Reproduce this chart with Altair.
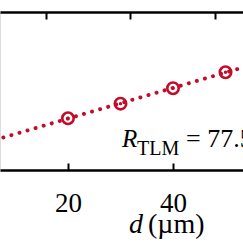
import altair as alt
import pandas as pd

# ---- data ----
d_um = [20, 30, 40, 50]              # channel spacing d (µm)
r_total = [262, 336, 414, 495]       # total resistance (arbitrary, left axis not visible)
bottom_ticks = [0, 20, 40, 60]
top_ticks = [15.9, 31.9, 48.0]       # secondary (top) axis tick positions, in d units
fit_extent = [0, 60]

ann_symbol = "R"
ann_sub = "TLM"
ann_value = "= 77.5 Ω"
title_var = "d"
title_unit = "(µm)"

df = pd.DataFrame({"d": d_um, "R": r_total})

RED = "#c30c2a"
FONT = "Liberation Serif, Times New Roman, serif"
W, H = 243, 158
xs = alt.Scale(domain=[7.05, 53.33], nice=False, zero=False)
ys = alt.Scale(domain=[0, 800], nice=False, zero=False)

base = alt.Chart(df)

# layer 1: fitted dotted line, bottom axis with domain + labels
line = base.transform_regression("d", "R", extent=fit_extent).mark_line(
    color=RED, strokeWidth=3.9, strokeDash=[0.1, 8.3], strokeCap="round", clip=True
).encode(
    x=alt.X("d:Q", scale=xs, axis=alt.Axis(
        orient="bottom", values=bottom_ticks, format="d", grid=False,
        domain=True, domainColor="black", domainWidth=2.5,
        ticks=False, tickSize=0, labels=True, labelFont=FONT, labelFontSize=27,
        labelColor="black", labelBaseline="alphabetic", labelPadding=41,
        labelFlush=False, labelOverlap=False, title=None)),
    y=alt.Y("R:Q", scale=ys, axis=None),
)

# layer 2: open circles, bottom inward ticks
circles = base.mark_point(
    shape="circle", filled=False, size=130, strokeWidth=2.6, color=RED, opacity=1
).encode(
    x=alt.X("d:Q", scale=xs, axis=alt.Axis(
        orient="bottom", values=bottom_ticks, offset=-7, grid=False,
        domain=False, ticks=True, tickSize=7, tickWidth=2, tickColor="black",
        labels=False, title=None)),
    y=alt.Y("R:Q", scale=ys, axis=None),
)

# layer 3: centre dots, top axis domain
dots = base.mark_point(
    shape="circle", filled=True, size=12, color=RED, opacity=1
).encode(
    x=alt.X("d:Q", scale=xs, axis=alt.Axis(
        orient="top", grid=False, domain=True, domainColor="black", domainWidth=2.5,
        ticks=False, labels=False, title=None)),
    y=alt.Y("R:Q", scale=ys, axis=None),
)

# layer 4: top inward ticks
topticks = base.mark_point(opacity=0).encode(
    x=alt.X("d:Q", scale=xs, axis=alt.Axis(
        orient="top", values=top_ticks, offset=-7, grid=False,
        domain=False, ticks=True, tickSize=7, tickWidth=2, tickColor="black",
        labels=False, title=None)),
    y=alt.Y("R:Q", scale=ys, axis=None),
)

def txt(s, x, y, size, style="normal", align="left"):
    return alt.Chart(pd.DataFrame({"t": [s]})).mark_text(
        font=FONT, fontSize=size, fontStyle=style, align=align,
        baseline="alphabetic", color="black", clip=False
    ).encode(text="t:N", x=alt.value(x), y=alt.value(y))

ann = (
    txt(ann_symbol, 122, 135, 25, "italic")
    + txt(ann_sub, 137, 143, 20)
    + txt(ann_value, 186, 135, 26)
)
xtitle = txt(title_var, 143, 221, 28, "italic", "right") + txt(title_unit, 148, 221, 28)

chart = alt.layer(line, circles, dots, topticks, ann, xtitle).resolve_axis(
    x="independent"
).properties(
    width=W, height=H,
    autosize=alt.AutoSizeParams(type="none"),
    padding={"left": 0, "top": 12, "right": 0, "bottom": 73},
).configure_view(stroke=None).configure(background="white")

chart.save("out.html", embed_options={"renderer": "svg", "actions": False})
